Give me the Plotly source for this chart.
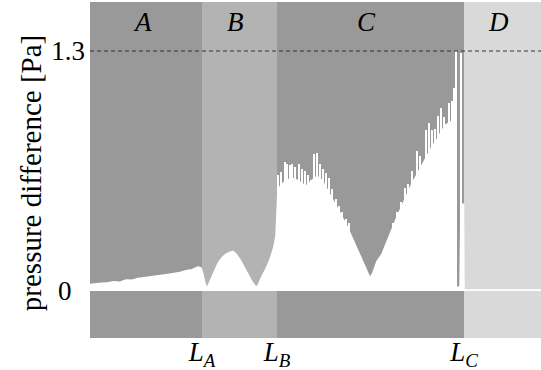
import plotly.graph_objects as go

# ---- data ----
region_names = ["A", "B", "C", "D"]
region_edges = [0, 112, 187, 374, 451]
region_colors = ["#999999", "#b3b3b3", "#999999", "#d9d9d9"]

x_tick_pos = [112, 187, 374]
x_tick_text = ["<i>L</i><sub><i>A</i></sub>", "<i>L</i><sub><i>B</i></sub>", "<i>L</i><sub><i>C</i></sub>"]
y_tick_vals = [0, 1.3]
y_tick_text = ["0\u2002", "1.3"]
limit_value = 1.3
y_label = "pressure difference [Pa]"

# envelope of the pressure-difference signal
env_x = [0, 6, 12, 18, 24, 30, 36, 42, 48, 54, 60, 66, 72, 78, 84, 90, 96, 102, 108, 111,
         113, 115, 117, 120, 124, 128, 132, 136, 140, 143, 146, 150, 154, 158, 162, 166, 168,
         172, 176, 180, 184, 186,
         187, 188, 192, 197, 202, 207, 212, 217, 222, 227, 232, 237, 242, 247, 252, 257, 262,
         267, 272, 276, 280, 283, 287, 292, 297, 302, 307, 312, 317, 322, 327, 332, 337, 342,
         347, 352, 356, 362, 365, 366, 370, 371, 373.5, 374, 451]
env_y = [0.035, 0.04, 0.042, 0.045, 0.05, 0.048, 0.06, 0.058, 0.068, 0.072, 0.075, 0.08, 0.085,
         0.09, 0.095, 0.1, 0.11, 0.115, 0.13, 0.125,
         0.09, 0.04, 0.015, 0.05, 0.1, 0.15, 0.18, 0.2, 0.21, 0.215, 0.2, 0.17, 0.13, 0.09, 0.05,
         0.02, 0.03, 0.08, 0.12, 0.17, 0.24, 0.3,
         0.45, 0.55, 0.58, 0.6, 0.61, 0.6, 0.58, 0.57, 0.6, 0.62, 0.6, 0.55, 0.5, 0.45, 0.4, 0.35,
         0.29, 0.23, 0.17, 0.12, 0.07, 0.1, 0.16, 0.2, 0.27, 0.33, 0.4, 0.46, 0.52, 0.58, 0.63,
         0.68, 0.73, 0.78, 0.82, 0.87, 0.9, 0.92, 0.95, 0.02, 0.02, 0.47, 0.47, 0.005, 0.005]

# individual oscillation peaks
spike_x = [188, 191, 195, 197, 200, 202, 205, 209, 212, 215, 218, 221, 224, 227, 230, 233, 236,
           239, 242, 246, 249, 252, 256, 259,
           303, 307, 311, 315, 318, 322, 327, 330, 336, 339, 342, 345, 348, 351, 354, 359, 362,
           364, 366, 371]
spike_y = [0.63, 0.645, 0.70, 0.69, 0.68, 0.69, 0.67, 0.69, 0.66, 0.65, 0.63, 0.60, 0.74, 0.745,
           0.69, 0.66, 0.64, 0.61, 0.55, 0.50, 0.46, 0.43, 0.39, 0.37,
           0.37, 0.43, 0.48, 0.56, 0.58, 0.65, 0.76, 0.73, 0.87, 0.91, 0.87, 0.88, 0.95, 0.99,
           0.94, 1.02, 1.03, 1.10, 1.3, 1.29]

FONT = "Liberation Serif"
FS = 27

fig = go.Figure()

for i, name in enumerate(region_names):
    fig.add_vrect(x0=region_edges[i], x1=region_edges[i + 1], fillcolor=region_colors[i],
                  opacity=1, line_width=0, layer="below")
    fig.add_annotation(x=(region_edges[i] + region_edges[i + 1]) / 2, y=1.0, yref="paper",
                       yanchor="top", yshift=-3, xshift=-4, text=f"<i>{name}</i>",
                       showarrow=False, font=dict(family=FONT, size=FS, color="black"))

fig.add_trace(go.Scatter(x=env_x, y=env_y, mode="lines", fill="tozeroy",
                         fillcolor="white", line=dict(color="white", width=1.5),
                         hoverinfo="skip", showlegend=False))
fig.add_trace(go.Bar(x=spike_x, y=spike_y, width=0.9, marker=dict(color="white", line_width=0),
                     hoverinfo="skip", showlegend=False))

fig.add_hline(y=limit_value, line=dict(color="#333333", width=1, dash="4px,3px"))

fig.add_annotation(text=y_label, textangle=-90, xref="paper", yref="paper",
                   x=-0.129, y=0.49, xanchor="center", yanchor="middle", showarrow=False,
                   font=dict(family=FONT, size=29, color="black"))

fig.update_layout(
    width=541, height=370,
    margin=dict(l=90, r=0, t=2, b=32),
    paper_bgcolor="white", plot_bgcolor="#999999",
    font=dict(family=FONT, size=FS, color="black"),
    bargap=0,
    xaxis=dict(range=[region_edges[0], region_edges[-1]], tickvals=x_tick_pos,
               ticktext=x_tick_text, showgrid=False, zeroline=False, showline=False,
               ticks="", automargin=False, ticklabelstandoff=-5,
               tickfont=dict(family=FONT, size=FS)),
    yaxis=dict(range=[-0.2546, 1.5655], tickvals=y_tick_vals, ticktext=y_tick_text,
               showgrid=False, zeroline=False, showline=False, ticks="", automargin=False,
               tickfont=dict(family=FONT, size=FS), ticklabelstandoff=4),
)

fig.write_html("out.html", config={"displayModeBar": False},
               post_script="document.body.style.margin='0';document.body.style.padding='0';")
